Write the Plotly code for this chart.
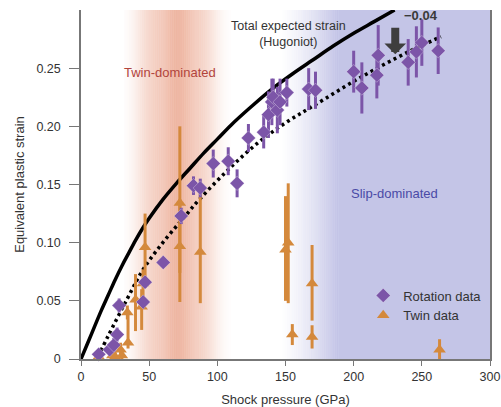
import numpy as np
import plotly.graph_objects as go

# ---- data ----
hug_x = [0, 5, 10, 15, 20, 25, 30, 35, 40, 45, 50, 60, 70, 80, 90, 100, 110, 125, 140, 155, 170, 185, 200, 215, 230]
hug_y = [0, 0.014, 0.028, 0.042, 0.055, 0.068, 0.080, 0.091, 0.102, 0.112, 0.121, 0.137, 0.151, 0.164, 0.177,
         0.189, 0.201, 0.217, 0.232, 0.245, 0.257, 0.269, 0.280, 0.290, 0.300]

fit_x = [12.5, 20, 33.6, 45.6, 60, 75, 87.5, 110, 131, 150, 171, 205, 240, 264]
fit_y = [0.002, 0.020, 0.051, 0.077, 0.100, 0.121, 0.138, 0.165, 0.187, 0.203, 0.218, 0.242, 0.264, 0.277]

rot_x = [13, 21, 24, 26.5, 28, 45.6, 47, 60.3, 73.5, 82.5, 87.5, 97, 108, 114.5, 122.8,
         134, 137.5, 140, 141, 144, 146, 151, 167, 172, 200, 206, 217, 218, 240, 246, 250, 262]
rot_y = [0.004, 0.008, 0.012, 0.021, 0.046, 0.049, 0.066, 0.083, 0.123, 0.149, 0.147, 0.168, 0.170, 0.151, 0.190,
         0.195, 0.210, 0.221, 0.225, 0.214, 0.221, 0.229, 0.232, 0.231, 0.247, 0.233, 0.244, 0.261, 0.255, 0.264, 0.272, 0.265]
rot_err = [0.004, 0.005, 0.006, 0.006, 0.006, 0.004, 0.005, 0.004, 0.007, 0.008, 0.008, 0.012, 0.012, 0.012, 0.012,
           0.014, 0.02, 0.02, 0.016, 0.02, 0.02, 0.012, 0.018, 0.016, 0.018, 0.022, 0.02, 0.026, 0.02, 0.022, 0.02, 0.02]

twin_x = [13, 23, 25, 29, 30, 34, 34.5, 40, 44.5, 45.5, 47, 72.5, 72.5, 87.5, 150, 152, 155, 169.5, 169.5, 263]
twin_y = [0.002, 0.003, 0.002, 0.008, 0.003, 0.040, 0.014, 0.051, 0.045, 0.065, 0.096, 0.134, 0.097, 0.092, 0.094, 0.100, 0.021, 0.065, 0.019, 0.008]
twin_ep = [0.004, 0.004, 0.004, 0.006, 0.004, 0.006, 0.025, 0.022, 0.015, 0.012, 0.029, 0.066, 0.040, 0.053, 0.046, 0.051, 0.009, 0.033, 0.010, 0.009]
twin_em = [0.003, 0.003, 0.003, 0.006, 0.003, 0.006, 0.005, 0.027, 0.020, 0.015, 0.031, 0.060, 0.048, 0.044, 0.044, 0.052, 0.009, 0.032, 0.010, 0.008]

x_ticks = [0, 50, 100, 150, 200, 250, 300]
y_ticks = [0, 0.05, 0.10, 0.15, 0.20, 0.25]
y_tick_text = ["0", "0.05", "0.10", "0.15", "0.20", "0.25"]

PURPLE = "#7c55a8"
ORANGE = "#d4893c"
FONT = "Liberation Sans, Arial, sans-serif"

fig = go.Figure()

# ---- background gradient bands (styling) ----
def blend(base, a):
    return "rgb(%d,%d,%d)" % tuple(round(255 * (1 - a) + c * a) for c in base)

shapes = []
twin_base = (226, 128, 94)
for g in np.arange(32, 110, 0.5):
    a = 0.40 * np.exp(-((g - 70) / 29) ** 4) + 0.18 * np.exp(-((g - 71) / 9) ** 2)
    shapes.append(dict(type="rect", xref="x", yref="paper", x0=g - 0.3, x1=g + 0.55, y0=0, y1=1,
                       fillcolor=blend(twin_base, a), line=dict(width=0), layer="below"))
slip_base = (196, 197, 231)
for g in np.arange(146, 190, 0.5):
    a = min(1.0, max(0.0, (g - 146) / 42)) ** 1.3
    shapes.append(dict(type="rect", xref="x", yref="paper", x0=g - 0.3, x1=g + 0.55, y0=0, y1=1,
                       fillcolor=blend(slip_base, a), line=dict(width=0), layer="below"))
shapes.append(dict(type="rect", xref="x", yref="paper", x0=189.8, x1=300, y0=0, y1=1,
                   fillcolor=blend(slip_base, 1.0), line=dict(width=0), layer="below"))

# ---- curves ----
fig.add_trace(go.Scatter(x=hug_x, y=hug_y, mode="lines", line=dict(color="black", width=3.5, shape="spline"),
                         showlegend=False, hoverinfo="skip"))
fig.add_trace(go.Scatter(x=fit_x, y=fit_y, mode="lines",
                         line=dict(color="black", width=3.5, dash="3px,3.5px", shape="spline"),
                         showlegend=False, hoverinfo="skip"))

# ---- data ----
fig.add_trace(go.Scatter(
    x=twin_x, y=twin_y, mode="markers", name="Twin data", legendrank=2,
    marker=dict(symbol="triangle-up", size=11, color=ORANGE),
    error_y=dict(type="data", array=twin_ep, arrayminus=twin_em, color=ORANGE, thickness=3, width=0),
    cliponaxis=False))
fig.add_trace(go.Scatter(
    x=rot_x, y=rot_y, mode="markers", name="Rotation data", legendrank=1,
    marker=dict(symbol="diamond", size=11, color=PURPLE, line=dict(color="rgba(255,255,255,0.6)", width=0.5)),
    error_y=dict(type="data", array=rot_err, color=PURPLE, thickness=3, width=0),
    cliponaxis=False))

annotations = [
    dict(x=65, y=0.246, xref="x", yref="y", text="Twin-dominated", showarrow=False,
         font=dict(family=FONT, size=13, color="#b2443c")),
    dict(x=229.6, y=0.1426, xref="x", yref="y", text="Slip-dominated", showarrow=False,
         font=dict(family=FONT, size=13, color="#4a4aa6")),
    dict(x=152, y=0.279, xref="x", yref="y", text="Total expected strain<br>(Hugoniot)", showarrow=False,
         font=dict(family=FONT, size=12.5, color="#333333")),
    dict(x=249.4, y=0.2955, xref="x", yref="y", text="<b>\u22120.04</b>", showarrow=False,
         font=dict(family=FONT, size=13, color="#3a3a3a")),
    dict(x=230.5, y=0.262, ax=230.5, ay=0.286, xref="x", yref="y", axref="x", ayref="y",
         text="", showarrow=True, arrowhead=1, arrowwidth=8, arrowsize=0.45, arrowcolor="#3e3e3e", standoff=0),
]

fig.update_layout(
    width=501, height=407,
    margin=dict(l=81, r=11, t=10, b=48, autoexpand=False),
    paper_bgcolor="white", plot_bgcolor="white",
    font=dict(family=FONT, size=12.5, color="#333333"),
    shapes=shapes, annotations=annotations,
    legend=dict(x=0.69, y=0.225, xanchor="left", yanchor="top", bgcolor="rgba(0,0,0,0)",
                font=dict(family=FONT, size=13, color="#333333"), tracegroupgap=0),
    xaxis=dict(range=[0, 300], tickvals=x_ticks, showgrid=False, zeroline=False, automargin=False,
               showline=True, linecolor="#777777", linewidth=1.5, ticks="outside", ticklen=5,
               tickcolor="#777777", tickwidth=1.2,
               title=dict(text="Shock pressure (GPa)", font=dict(size=13), standoff=13)),
    yaxis=dict(range=[0, 0.30], tickvals=y_ticks, ticktext=y_tick_text, showgrid=False, zeroline=False,
               automargin=False, showline=True, linecolor="#777777", linewidth=1.5, ticks="outside", ticklen=10,
               ticklabelstandoff=6, tickcolor="#777777", tickwidth=1.2, mirror=True,
               title=dict(text="Equivalent plastic strain", font=dict(size=13), standoff=9)),
)

fig.write_html("out.html")
